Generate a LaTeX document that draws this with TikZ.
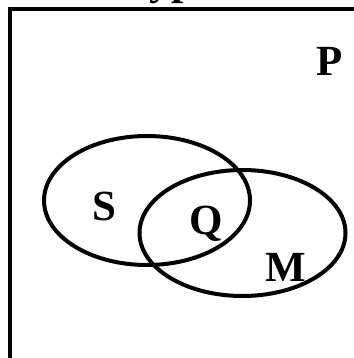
\documentclass[tikz,border=0pt]{standalone}
\usepackage{fontspec}
\setmainfont{Liberation Serif}
\begin{document}
\begin{tikzpicture}[x=1pt,y=-1pt,
  setline/.style={line width=4pt},
  setlabel/.style={font=\bfseries\fontsize{43}{50}\selectfont, inner sep=0pt}]
\useasboundingbox (0,0) rectangle (353,358);
% title (only its descenders are visible in the reference)
\node[setlabel, anchor=base west] (title) at (124,-5) {Type};
% universe rectangle
\draw[setline] (10,400) -- (10,9.5) -- (400,9.5);
% sets
\draw[setline] (147,200.5) ellipse [x radius=103, y radius=64.5];
\draw[setline] (242.5,233) ellipse [x radius=103, y radius=63];
% labels
\node[setlabel] (P) at (330,61.5) {P};
\node[setlabel] (S) at (104,206) {S};
\node[setlabel] (Q) at (206.5,224) {Q};
\node[setlabel] (M) at (286,267) {M};
\end{tikzpicture}
\end{document}
